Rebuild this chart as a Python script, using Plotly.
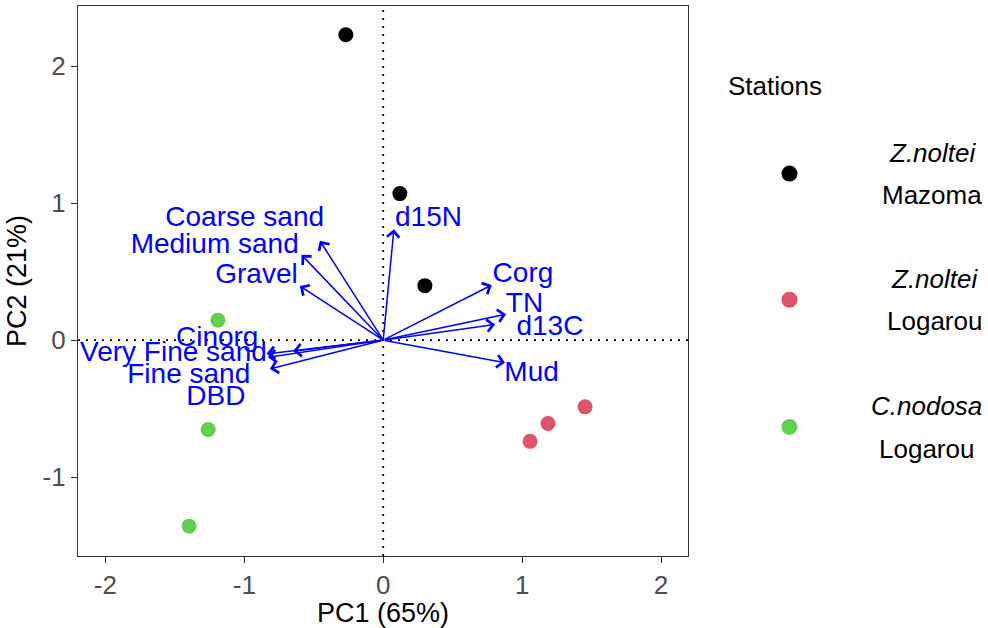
import plotly.graph_objects as go

# ---------------- data ----------------
variables = ["Coarse sand", "Medium sand", "Gravel", "Cinorg", "Very Fine sand",
             "Fine sand", "DBD", "d15N", "Corg", "TN", "d13C", "Mud"]
load_pc1 = [-0.456, -0.588, -0.600, -0.648, -0.840, -0.830, -0.816, 0.077, 0.781, 0.884, 0.805, 0.877]
load_pc2 = [0.726, 0.623, 0.395, -0.080, -0.100, -0.125, -0.210, 0.810, 0.403, 0.190, 0.115, -0.165]
label_pc1 = [-0.997, -1.213, -0.912, -1.195, -1.51, -1.40, -1.205, 0.326, 1.006, 1.017, 1.20, 1.068]
label_pc2 = [0.882, 0.691, 0.468, 0.010, -0.099, -0.264, -0.422, 0.882, 0.475, 0.259, 0.090, -0.245]

groups = ["Z.noltei Mazoma", "Z.noltei Logarou", "C.nodosa Logarou"]
group_species = ["Z.noltei", "Z.noltei", "C.nodosa"]
group_site = ["Mazoma", "Logarou", "Logarou"]
group_colors = ["#000000", "#DF536B", "#61D04F"]
score_pc1 = [[-0.269, 0.120, 0.300], [1.453, 1.186, 1.057], [-1.190, -1.260, -1.397]]
score_pc2 = [[2.230, 1.070, 0.398], [-0.487, -0.609, -0.739], [0.146, -0.653, -1.358]]

x_ticks = [-2, -1, 0, 1, 2]
y_ticks = [-1, 0, 1, 2]

FONT = "Arial, Liberation Sans, sans-serif"
W, H = 988, 628
L, R, T, B = 78, 300, 5, 65
plot_w = W - L - R
plot_h = H - T - B


def px(xp):
    return (xp - L) / plot_w


def py(yp):
    return (H - B - yp) / plot_h


fig = go.Figure()

# arrows
annotations = []
for vx, vy in zip(load_pc1, load_pc2):
    annotations.append(dict(
        x=vx, y=vy, ax=0, ay=0, xref="x", yref="y", axref="x", ayref="y",
        text="", showarrow=True, arrowhead=4, arrowsize=1.6, arrowwidth=1.5,
        arrowcolor="#0000FF", standoff=0, startstandoff=0))

# variable labels
fig.add_trace(go.Scatter(
    x=label_pc1, y=label_pc2, mode="text", text=variables,
    textposition="middle center",
    textfont=dict(family=FONT, size=28, color="#0000FF"),
    hoverinfo="skip", showlegend=False))

# scores
for g, c, xs, ys in zip(groups, group_colors, score_pc1, score_pc2):
    fig.add_trace(go.Scatter(
        x=xs, y=ys, mode="markers", name=g,
        marker=dict(size=15, color=c, line=dict(width=0)),
        showlegend=False))

# dotted reference lines
dot_line = dict(color="black", width=1.8, dash="2px,6px")
shapes = [
    dict(type="line", xref="x", yref="paper", x0=0, x1=0, y0=0, y1=1,
         line=dot_line, layer="below"),
    dict(type="line", xref="paper", yref="y", x0=0, x1=1, y0=0, y1=0,
         line=dot_line, layer="below"),
]

# manual legend
annotations.append(dict(text="Stations", xref="paper", yref="paper",
                        x=px(726), y=py(86), xanchor="left", yanchor="middle",
                        showarrow=False, font=dict(family=FONT, size=26, color="black")))
dot_y = [175, 303, 432]
text_cx = [932, 934, 926]
for i in range(3):
    shapes.append(dict(type="circle", xref="paper", yref="paper",
                       xsizemode="pixel", ysizemode="pixel",
                       xanchor=px(789.5), yanchor=py(dot_y[i]),
                       x0=-8, x1=8, y0=-8, y1=8,
                       fillcolor=group_colors[i], line=dict(width=0)))
    annotations.append(dict(text="<i>" + group_species[i] + "</i>", xref="paper", yref="paper",
                            x=px(text_cx[i]), y=py(dot_y[i] - 21), xanchor="center", yanchor="middle",
                            showarrow=False, font=dict(family=FONT, size=26, color="black")))
    annotations.append(dict(text=group_site[i], xref="paper", yref="paper",
                            x=px(text_cx[i]), y=py(dot_y[i] + 22), xanchor="center", yanchor="middle",
                            showarrow=False, font=dict(family=FONT, size=26, color="black")))

axis_common = dict(
    showgrid=False, zeroline=False, showline=True, mirror=True,
    linecolor="#333333", linewidth=1.2,
    ticks="outside", ticklen=6, tickwidth=1.2, tickcolor="#333333",
    tickfont=dict(family=FONT, size=26, color="#4D4D4D"),
)

fig.update_layout(
    width=W, height=H,
    margin=dict(l=L, r=R, t=T, b=B),
    paper_bgcolor="white", plot_bgcolor="white",
    showlegend=False,
    xaxis=dict(range=[-2.197, 2.194], tickvals=x_ticks, ticktext=[str(v) for v in x_ticks],
               title=dict(text="PC1 (65%)", font=dict(family=FONT, size=27, color="black"), standoff=4),
               **axis_common),
    yaxis=dict(range=[-1.576, 2.44], tickvals=y_ticks, ticktext=[str(v) for v in y_ticks],
               title=dict(text="PC2 (21%)", font=dict(family=FONT, size=27, color="black"), standoff=8),
               **axis_common),
    shapes=shapes,
    annotations=annotations,
)

fig.write_html("out.html")
